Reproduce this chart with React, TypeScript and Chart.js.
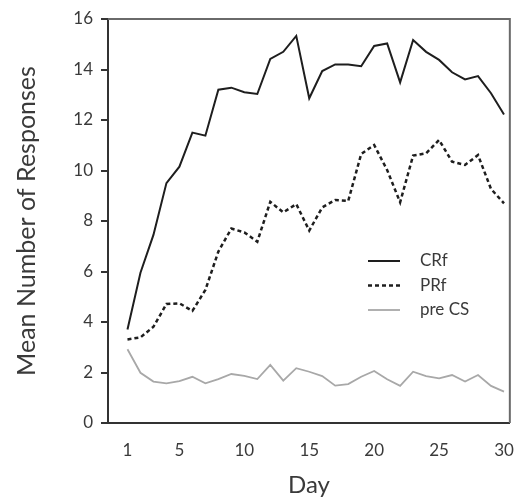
import React, { useEffect, useRef } from "react";
import { Chart, registerables } from "chart.js";

Chart.register(...registerables);

const days = Array.from({ length: 30 }, (_, i) => i + 1);
const xTicks = [1, 5, 10, 15, 20, 25, 30];
const yTicks = [0, 2, 4, 6, 8, 10, 12, 14, 16];

const crf = [3.7, 5.95, 7.45, 9.5, 10.15, 11.5, 11.38, 13.2, 13.28, 13.1, 13.03, 14.42, 14.7, 15.33, 12.86, 13.94, 14.2, 14.2, 14.13, 14.93, 15.03, 13.49, 15.17, 14.7, 14.38, 13.89, 13.61, 13.74, 13.06, 12.22];
const prf = [3.31, 3.39, 3.81, 4.71, 4.74, 4.44, 5.27, 6.79, 7.7, 7.55, 7.18, 8.76, 8.34, 8.67, 7.62, 8.54, 8.83, 8.79, 10.65, 11.01, 10.02, 8.74, 10.59, 10.68, 11.21, 10.35, 10.22, 10.61, 9.27, 8.7];
const preCs = [2.92, 1.99, 1.64, 1.57, 1.66, 1.83, 1.57, 1.74, 1.94, 1.87, 1.74, 2.3, 1.68, 2.17, 2.03, 1.86, 1.48, 1.54, 1.83, 2.06, 1.73, 1.47, 2.03, 1.86, 1.77, 1.9, 1.64, 1.9, 1.47, 1.24];

const seriesNames = ["CRf", "PRf", "pre CS"];

const FONT = "Lato, 'Open Sans', sans-serif";
const TEXT = "#3a3a3a";

const toXY = (vals: number[]) => vals.map((v, i) => ({ x: days[i], y: v }));

const boxAndLegend = {
  id: "boxAndLegend",
  afterDraw(chart: any) {
    const { ctx, chartArea } = chart;
    ctx.save();
    ctx.strokeStyle = "#6a6a6a";
    ctx.lineWidth = 2;
    ctx.beginPath();
    ctx.moveTo(chartArea.left, chartArea.top);
    ctx.lineTo(chartArea.right, chartArea.top);
    ctx.lineTo(chartArea.right, chartArea.bottom);
    ctx.stroke();
    const ds = chart.data.datasets;
    const x0 = chartArea.left + 260;
    const y0 = chartArea.top + 242;
    const rowH = 24.5;
    ds.forEach((d: any, i: number) => {
      const y = y0 + i * rowH;
      ctx.beginPath();
      ctx.strokeStyle = d.borderColor;
      ctx.lineWidth = d.borderWidth;
      ctx.setLineDash(d.borderDash || []);
      ctx.moveTo(x0, y);
      ctx.lineTo(x0 + 32, y);
      ctx.stroke();
      ctx.setLineDash([]);
      ctx.fillStyle = TEXT;
      ctx.font = `17px ${FONT}`;
      ctx.textBaseline = "middle";
      ctx.textAlign = "left";
      ctx.fillText(d.label, x0 + 52, y);
    });
    ctx.restore();
  },
};

export default function App() {
  const ref = useRef<HTMLCanvasElement | null>(null);
  useEffect(() => {
    if (!ref.current) return;
    const chart = new Chart(ref.current, {
      type: "line",
      data: {
        datasets: [
          { label: seriesNames[0], data: toXY(crf), borderColor: "#1e1e1e", borderWidth: 2, pointRadius: 0, tension: 0 },
          { label: seriesNames[1], data: toXY(prf), borderColor: "#1e1e1e", borderWidth: 2.5, borderDash: [4, 3], pointRadius: 0, tension: 0 },
          { label: seriesNames[2], data: toXY(preCs), borderColor: "#a8a8a8", borderWidth: 1.8, pointRadius: 0, tension: 0 },
        ],
      },
      options: {
        animation: false,
        responsive: false,
        maintainAspectRatio: false,
        layout: { padding: { top: 19, right: 10, left: 0, bottom: 0 } },
        plugins: { legend: { display: false }, tooltip: { enabled: false } },
        scales: {
          x: {
            type: "linear",
            min: -0.5,
            max: 30.45,
            afterBuildTicks: (axis: any) => {
              axis.ticks = xTicks.map((v) => ({ value: v }));
            },
            afterFit: (axis: any) => {
              axis.height = 78;
            },
            grid: { display: false, drawTicks: false },
            border: { display: true, color: "#333", width: 2 },
            ticks: { color: TEXT, font: { family: FONT, size: 17 }, padding: 17, maxRotation: 0, autoSkip: false },
            title: { display: true, text: "Day", color: TEXT, font: { family: FONT, size: 24 }, padding: { top: 0, bottom: 1 } },
          },
          y: {
            type: "linear",
            min: 0,
            max: 16,
            afterBuildTicks: (axis: any) => {
              axis.ticks = yTicks.map((v) => ({ value: v }));
            },
            afterFit: (axis: any) => {
              axis.width = 108;
            },
            grid: { display: true, drawOnChartArea: false, drawTicks: true, tickLength: 7, color: "#333", lineWidth: 2 },
            border: { display: true, color: "#333", width: 2 },
            ticks: { color: TEXT, font: { family: FONT, size: 17 }, padding: 8 },
            title: { display: true, text: "Mean Number of Responses", color: TEXT, font: { family: FONT, size: 25 }, padding: { top: 12, bottom: 0 } },
          },
        },
      },
      plugins: [boxAndLegend],
    });
    return () => chart.destroy();
  }, []);
  return (
    <div style={{ position: "absolute", left: 0, top: 0, width: 531, height: 501, background: "#fff" }}>
      <canvas ref={ref} width={531} height={501} style={{ width: 531, height: 501 }} />
    </div>
  );
}
